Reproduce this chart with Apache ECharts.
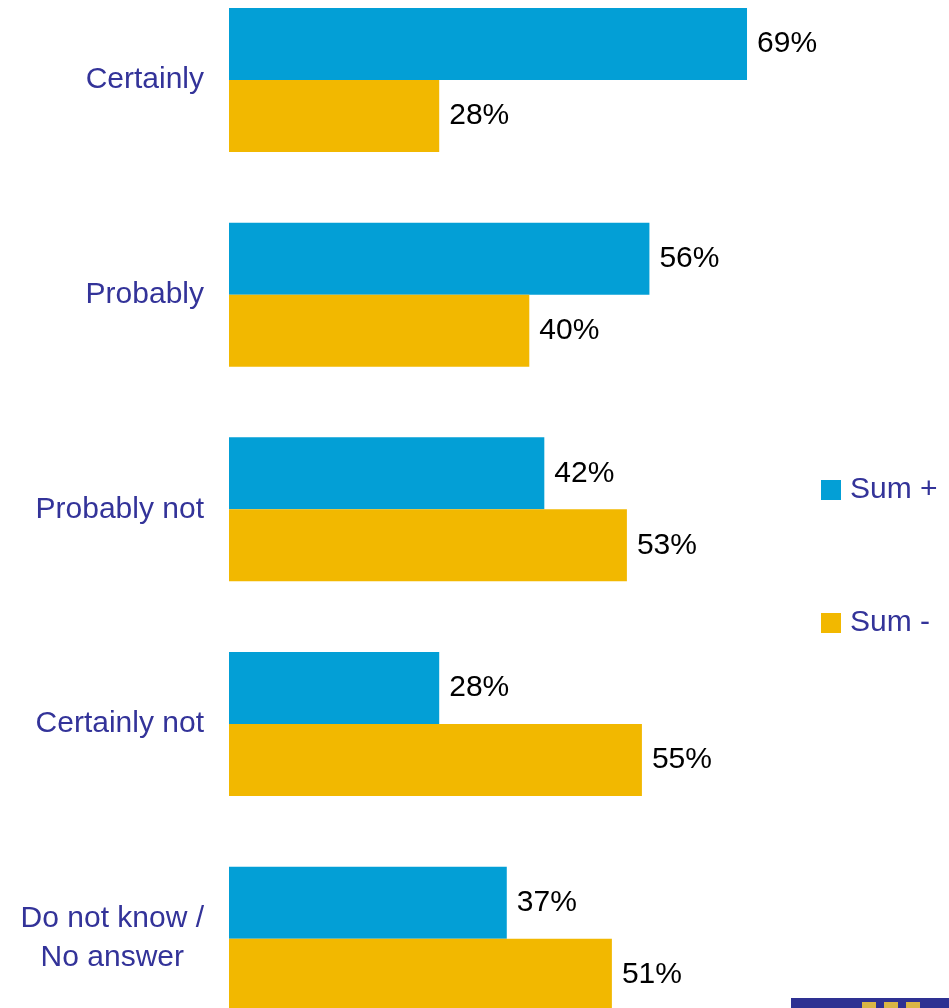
<!DOCTYPE html>
<html>
<head>
<meta charset="utf-8">
<script src="https://cdn.jsdelivr.net/npm/echarts@6/dist/echarts.min.js"></script>
<style>
  html, body { margin: 0; padding: 0; background: #fff; }
  #chart { width: 949px; height: 1008px; }
</style>
</head>
<body>
<div id="chart"></div>
<script>
// data
var categories = ['Certainly', 'Probably', 'Probably not', 'Certainly not', 'Do not know /\nNo answer'];
var sumPlus = [69, 56, 42, 28, 37];
var sumMinus = [28, 40, 53, 55, 51];

var FONT = 'Liberation Sans';

var chartDom = document.getElementById('chart');
var myChart = echarts.init(chartDom);
var option;
option = {
  animation: false,
  textStyle: { fontFamily: FONT },
  grid: {
    left: 229,
    top: 80,
    width: 600.6,
    height: 858.7
  },
  legend: {
    orient: 'vertical',
    left: 816,
    top: 470,
    itemWidth: 20,
    itemHeight: 20,
    itemGap: 103,
    icon: 'rect',
    textStyle: {
      color: '#333399',
      fontFamily: FONT,
      fontSize: 30,
      padding: [0, 0, 0, 4]
    },
    data: ['Sum +', 'Sum -']
  },
  xAxis: {
    type: 'value',
    min: 0,
    max: 80,
    show: false
  },
  yAxis: {
    type: 'category',
    inverse: true,
    boundaryGap: false,
    data: categories,
    axisLine: { show: false },
    axisTick: { show: false },
    splitLine: { show: false },
    axisLabel: {
      margin: 25,
      color: '#333399',
      fontFamily: FONT,
      fontSize: 30,
      formatter: function (v) {
        if (v.indexOf('\n') >= 0) {
          return v.split('\n').map(function (s) { return '{c|' + s + '}'; }).join('\n');
        }
        return v;
      },
      rich: {
        c: {
          align: 'center',
          color: '#333399',
          fontFamily: FONT,
          fontSize: 30,
          lineHeight: 39
        }
      }
    }
  },
  series: [
    {
      name: 'Sum +',
      type: 'bar',
      data: sumPlus,
      barGap: '0%',
      barWidth: 72,
      itemStyle: { color: '#039fd6' },
      label: {
        show: true,
        position: 'right',
        distance: 10,
        color: '#000',
        fontFamily: FONT,
        fontSize: 30,
        formatter: '{c}%'
      }
    },
    {
      name: 'Sum -',
      type: 'bar',
      data: sumMinus,
      barGap: '0%',
      barWidth: 72,
      itemStyle: { color: '#f2b800' },
      label: {
        show: true,
        position: 'right',
        distance: 10,
        color: '#000',
        fontFamily: FONT,
        fontSize: 30,
        formatter: '{c}%'
      }
    }
  ],
  graphic: [
    { type: 'rect', shape: { x: 791, y: 998, width: 158, height: 10 }, style: { fill: '#2e3192' } },
    { type: 'rect', shape: { x: 862, y: 1002, width: 14, height: 6 }, style: { fill: '#d9b545' } },
    { type: 'rect', shape: { x: 884, y: 1002, width: 14, height: 6 }, style: { fill: '#d9b545' } },
    { type: 'rect', shape: { x: 906, y: 1002, width: 14, height: 6 }, style: { fill: '#d9b545' } }
  ]
};
myChart.setOption(option);
</script>
</body>
</html>
